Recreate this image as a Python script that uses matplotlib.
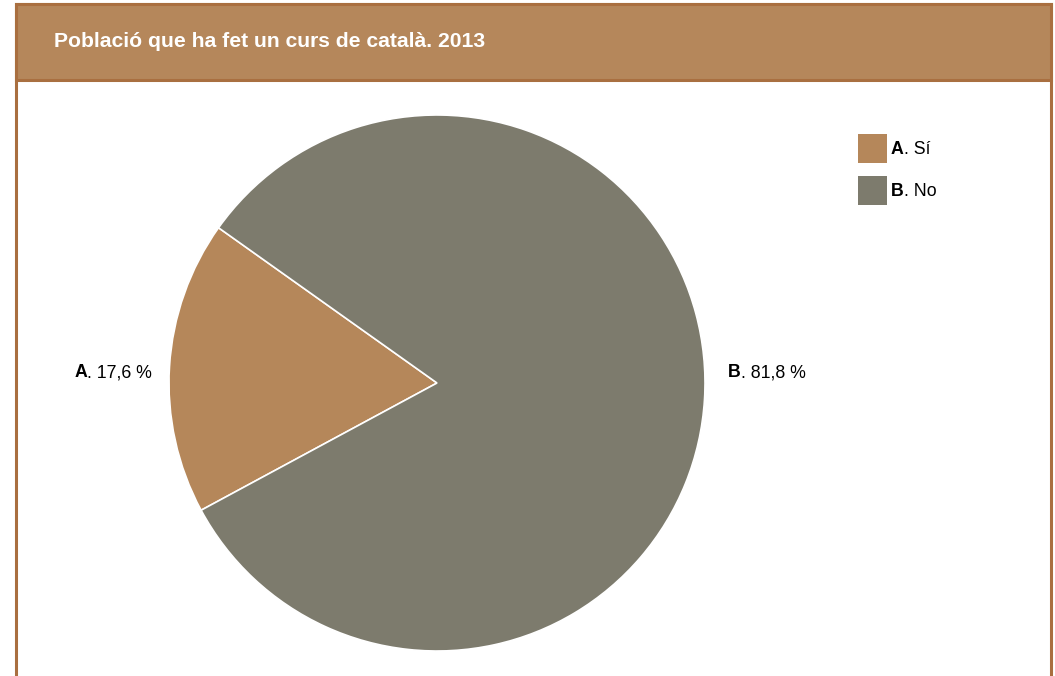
import matplotlib.pyplot as plt
from matplotlib.patches import Rectangle

plt.rcParams['font.family'] = ['Liberation Sans', 'DejaVu Sans']

title = "Població que ha fet un curs de català. 2013"
keys = ["A", "B"]
names = ["Sí", "No"]
values = [17.6, 81.8]
colors = ["#b5875a", "#7d7b6d"]

W, H = 1055, 676
fig = plt.figure(figsize=(W / 100, H / 100), dpi=100)

def fx(px):
    return px / W

def fy(py):
    return 1 - py / H

FS = 12.8

# frame + header band
border = "#a96f40"
fig.patches.append(Rectangle((fx(16), fy(700)), fx(1051) - fx(16), fy(4) - fy(700),
                             transform=fig.transFigure, facecolor="white",
                             edgecolor=border, linewidth=2.2, zorder=-2))
fig.patches.append(Rectangle((fx(16), fy(80)), fx(1051) - fx(16), fy(4) - fy(80),
                             transform=fig.transFigure, facecolor="#b5875b",
                             edgecolor=border, linewidth=2.2, zorder=-1))
fig.text(fx(54), fy(47), title, color="white", fontsize=15.2, fontweight="bold",
         va="baseline", ha="left")

# pie, centre (437, 383), radius 268 px
cx, cy, r = 437, 383, 268
ax = fig.add_axes([fx(cx - r), fy(cy + r), (2 * r) / W, (2 * r) / H])
ax.set_zorder(5)
ax.pie(values, colors=colors, startangle=144.6, counterclock=True,
       wedgeprops=dict(edgecolor="white", linewidth=1.2))
ax.set_xlim(-1, 1)
ax.set_ylim(-1, 1)
ax.set_aspect("auto")
ax.axis("off")

# bold key + regular rest, sharing one baseline
def label(x, y, key, rest, align):
    if align == "right":
        t2 = fig.text(fx(x), fy(y), rest, fontsize=FS, ha="right", va="baseline")
        fig.canvas.draw()
        bb = t2.get_window_extent()
        fig.text(bb.x0 / W, fy(y), key, fontsize=FS, fontweight="bold",
                 ha="right", va="baseline")
    else:
        t1 = fig.text(fx(x), fy(y), key, fontsize=FS, fontweight="bold",
                      ha="left", va="baseline")
        fig.canvas.draw()
        bb = t1.get_window_extent()
        fig.text(bb.x1 / W, fy(y), rest, fontsize=FS, ha="left", va="baseline")

def pct(v):
    return ". " + f"{v:.1f}".replace(".", ",") + " %"

label(152, 377, keys[0], pct(values[0]), "right")
label(728, 377, keys[1], pct(values[1]), "left")

# legend
for i, (k, n, c) in enumerate(zip(keys, names, colors)):
    top = 134 + i * 42
    fig.patches.append(Rectangle((fx(858), fy(top + 29)), 29 / W, 29 / H,
                                 transform=fig.transFigure, facecolor=c,
                                 edgecolor="none", zorder=2))
    label(891, top + 20, k, ". " + n, "left")

fig.savefig("out.png", dpi=100)
